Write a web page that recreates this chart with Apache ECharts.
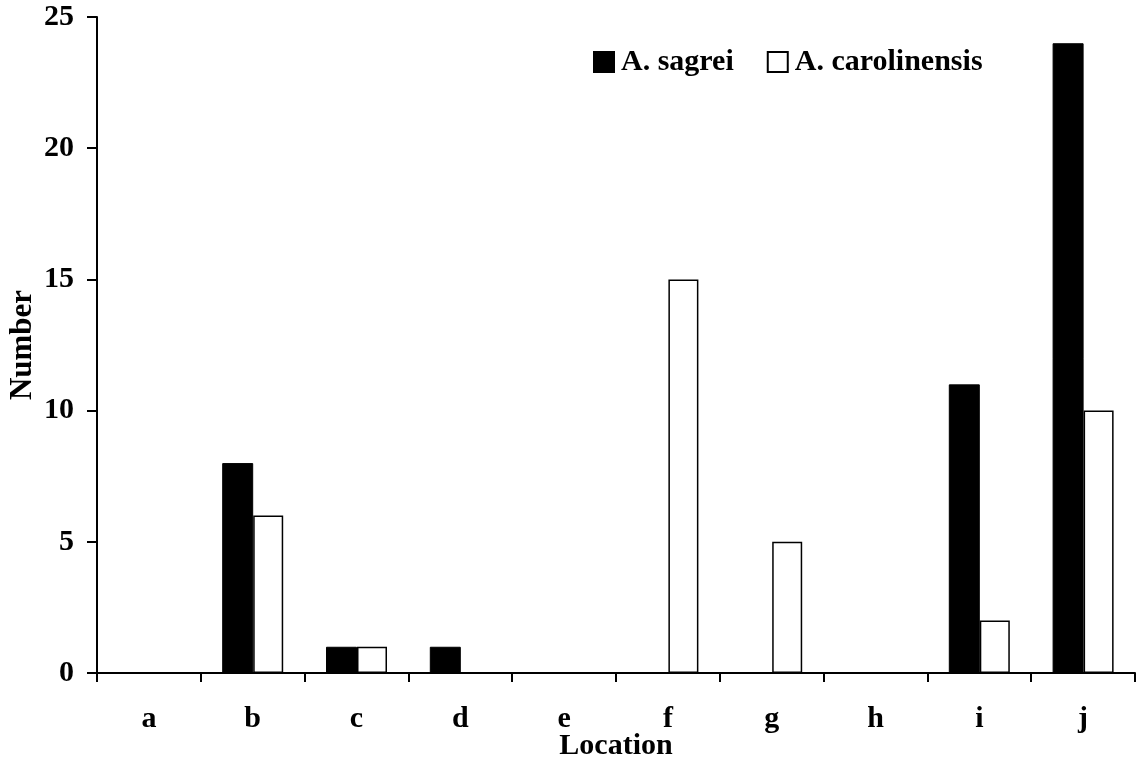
<!DOCTYPE html>
<html><head><meta charset="utf-8">
<script src="https://cdn.jsdelivr.net/npm/echarts@6/dist/echarts.min.js"></script>
<style>html,body{margin:0;padding:0;background:#fff}#c{width:1139px;height:761px}</style>
</head><body><div id="c"></div>
<script>
const categories = ['a','b','c','d','e','f','g','h','i','j'];
const sagrei = [0, 8, 1, 1, 0, 0, 0, 0, 11, 24];
const carolinensis = [0, 6, 1, 0, 0, 15, 5, 0, 2, 10];
const yTicks = [0, 5, 10, 15, 20, 25];

const font = '"Liberation Serif", "Times New Roman", serif';
const chart = echarts.init(document.getElementById('c'));
chart.setOption({
  animation: false,
  backgroundColor: '#fff',
  grid: {left: 97, top: 17, right: 4, bottom: 88, containLabel: false, outerBoundsMode: 'none'},
  legend: {
    top: 42, left: 588,
    itemWidth: 20, itemHeight: 20, itemGap: 33,
    icon: 'rect',
    textStyle: {fontFamily: font, fontWeight: 'bold', fontSize: 30, color: '#000', padding: [0,0,0,2]},
    data: ['A. sagrei', 'A. carolinensis']
  },
  xAxis: {
    type: 'category', data: categories,
    axisLine: {lineStyle: {color: '#000', width: 2}},
    axisTick: {show: true, length: 9, inside: false, alignWithLabel: false, lineStyle: {width: 2, color: '#000'}},
    axisLabel: {fontFamily: font, fontWeight: 'bold', fontSize: 30, color: '#000', margin: 31},
    name: 'Location', nameLocation: 'middle', nameGap: 58, nameMoveOverlap: false,
    nameTextStyle: {fontFamily: font, fontWeight: 'bold', fontSize: 30, color: '#000'}
  },
  yAxis: {
    type: 'value', min: yTicks[0], max: yTicks[yTicks.length-1], interval: 5,
    splitLine: {show: false},
    axisLine: {show: true, lineStyle: {color: '#000', width: 2}},
    axisTick: {show: true, length: 10, lineStyle: {width: 2, color: '#000'}},
    axisLabel: {fontFamily: font, fontWeight: 'bold', fontSize: 30, color: '#000', margin: 23},
    name: 'Number', nameLocation: 'middle', nameGap: 59, nameRotate: 90, nameMoveOverlap: false,
    nameTextStyle: {fontFamily: font, fontWeight: 'bold', fontSize: 31, color: '#000'}
  },
  series: [
    {name: 'A. sagrei', type: 'bar', data: sagrei, barWidth: 31, barGap: '0%',
     itemStyle: {color: '#000', borderColor: '#000', borderWidth: 1}},
    {name: 'A. carolinensis', type: 'bar', data: carolinensis, barWidth: 30,
     itemStyle: {color: '#fff', borderColor: '#000', borderWidth: 1.5}}
  ]
});
</script></body></html>
